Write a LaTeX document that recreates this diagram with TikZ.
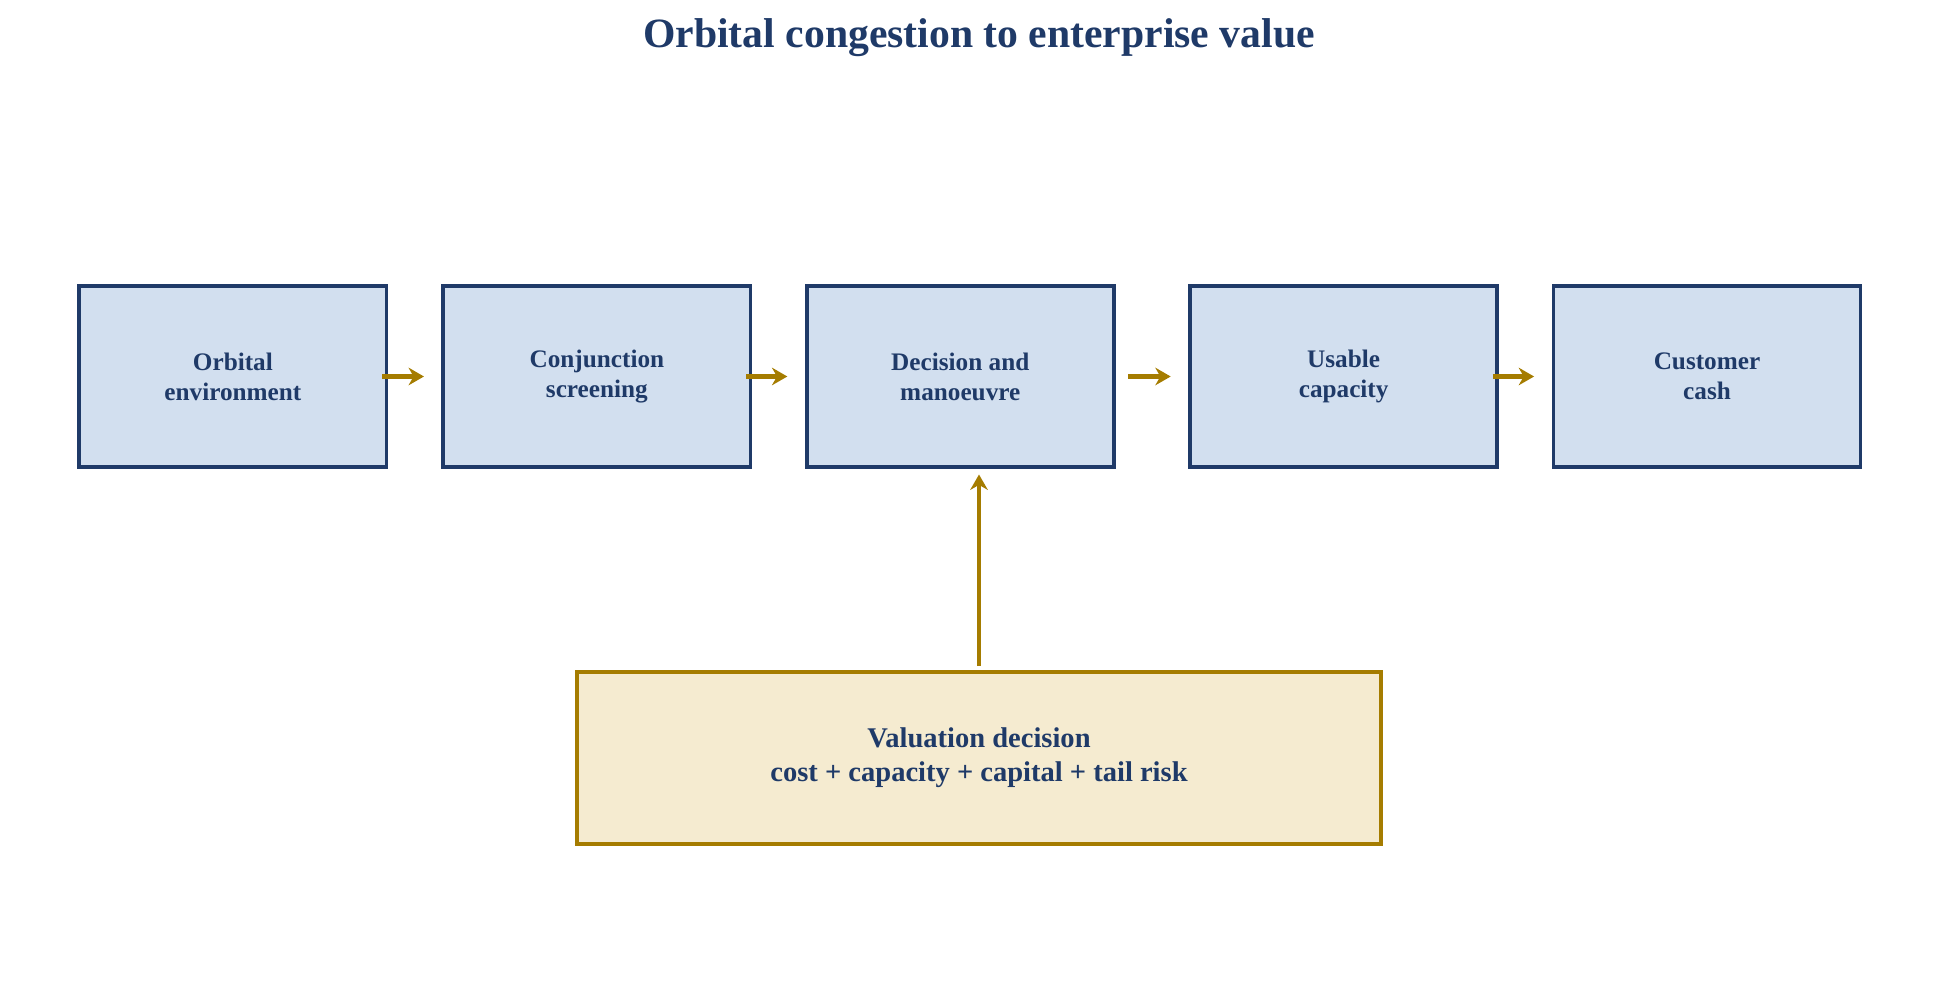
\documentclass[tikz,border=0pt]{standalone}
\usepackage{fontspec}
\setmainfont{Liberation Serif}
\usetikzlibrary{arrows.meta}
\definecolor{navy}{HTML}{1F3A68}
\definecolor{stagefill}{HTML}{D2DFEF}
\definecolor{gold}{HTML}{A57C00}
\definecolor{goldfill}{HTML}{F5EBD0}

\begin{document}
\begin{tikzpicture}[x=0.02cm,y=-0.02cm,
    stage/.style={draw=navy,fill=stagefill,line width=1.7pt,minimum width=246*0.02cm,minimum height=145*0.02cm,
        align=center,text=navy,font=\fontsize{11.5}{13.6}\selectfont\bfseries},
    arr/.style={draw=gold,line width=2.2pt,-{Stealth[length=7pt,width=8pt]}}]
    \useasboundingbox (0,0) rectangle (1568,794);
    \node[text=navy,font=\fontsize{19}{22}\selectfont\bfseries] (title) at (784,30) {Orbital congestion to enterprise value};

    \node[stage] (env) at (186.5,301.5) {Orbital\\environment};
    \node[stage] (scr) at (478,301.5) {Conjunction\\screening};
    \node[stage] (dec) at (769,301.5) {Decision and\\manoeuvre};
    \node[stage] (cap) at (1076,301.5) {Usable\\capacity};
    \node[stage] (cash) at (1367,301.5) {Customer\\cash};

    \node[stage,draw=gold,fill=goldfill,minimum width=644*0.02cm,minimum height=138*0.02cm,
        font=\fontsize{13}{15.5}\selectfont\bfseries] (val) at (784,607) {Valuation decision\\cost + capacity + capital + tail risk};

    \draw[arr] ([xshift=-5*0.02cm]env.east) -- ([xshift=-14*0.02cm]scr.west);
    \draw[arr] ([xshift=-5*0.02cm]scr.east) -- ([xshift=-14*0.02cm]dec.west);
    \draw[arr] ([xshift=10*0.02cm]dec.east) -- ([xshift=-14*0.02cm]cap.west);
    \draw[arr] ([xshift=-5*0.02cm]cap.east) -- ([xshift=-14*0.02cm]cash.west);
    \draw[arr] ([yshift=3*0.02cm]val.north) -- (784,380);
\end{tikzpicture}
\end{document}
